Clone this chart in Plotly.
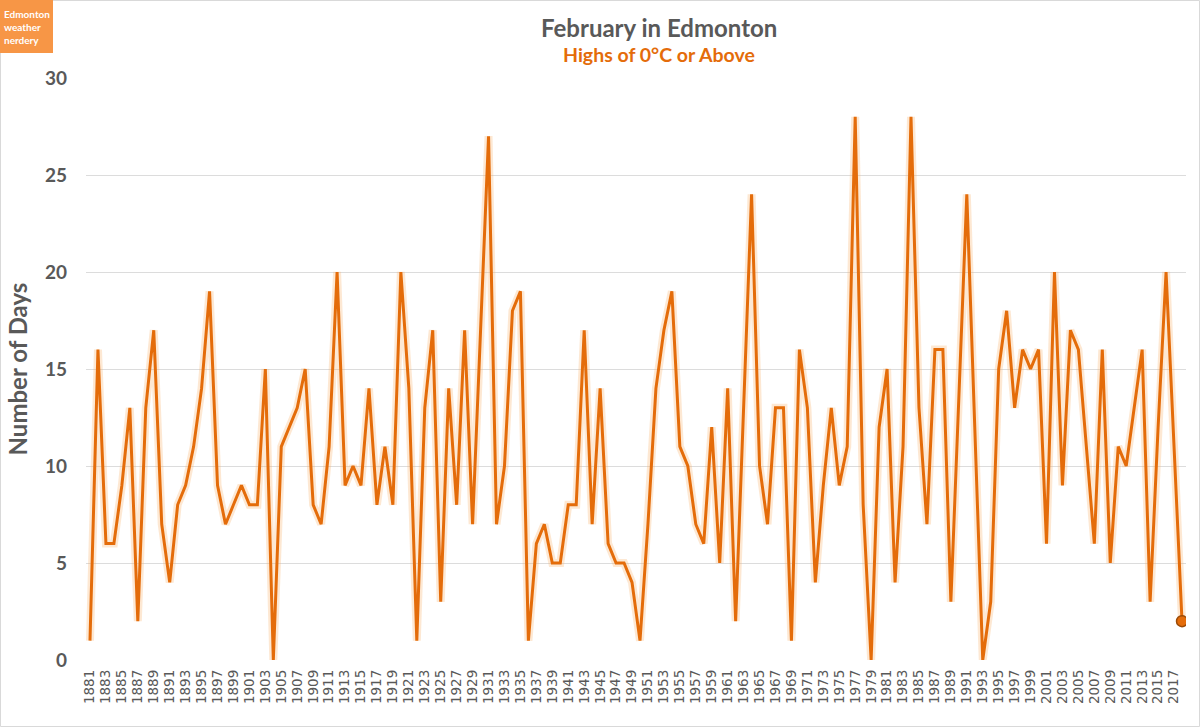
import plotly.graph_objects as go

years = list(range(1881, 2019))
days = [
    1, 16, 6, 6, 9, 13, 2, 13, 17, 7, 4, 8, 9, 11, 14, 19, 9, 7, 8, 9, 8, 8, 15, 0,
    11, 12, 13, 15, 8, 7, 11, 20, 9, 10, 9, 14, 8, 11, 8, 20, 14, 1, 13, 17, 3, 14, 8, 17,
    7, 17, 27, 7, 10, 18, 19, 1, 6, 7, 5, 5, 8, 8, 17, 7, 14, 6, 5, 5, 4, 1, 7, 14,
    17, 19, 11, 10, 7, 6, 12, 5, 14, 2, 13, 24, 10, 7, 13, 13, 1, 16, 13, 4, 9, 13, 9, 11,
    28, 8, 0, 12, 15, 4, 11, 28, 13, 7, 16, 16, 3, 14, 24, 12, 0, 3, 15, 18, 13, 16, 15, 16,
    6, 20, 9, 17, 16, 11, 6, 16, 5, 11, 10, 13, 16, 3, 12, 20, 11, 2,
]
tick_years = list(range(1881, 2018, 2))
y_ticks = [0, 5, 10, 15, 20, 25, 30]

TITLE = "February in Edmonton"
SUBTITLE = "Highs of 0°C or Above"
Y_TITLE = "Number of Days"

W, H = 1200, 727
ML, MR, MT, MB = 86, 14, 78, 67
PW, PH = W - ML - MR, H - MT - MB

def px(x):
    return (x - ML) / PW

def py(y):
    return (H - MB - y) / PH

ORANGE = "#E46C0A"
GRAY = "#595959"

fig = go.Figure()
fig.add_trace(go.Scatter(
    x=years, y=days, mode="lines",
    line=dict(color="rgba(250,180,110,0.3)", width=8),
    hoverinfo="skip", showlegend=False,
))
fig.add_trace(go.Scatter(
    x=years, y=days, mode="lines",
    line=dict(color=ORANGE, width=3),
    showlegend=False,
))
fig.add_trace(go.Scatter(
    x=[years[-1]], y=[days[-1]], mode="markers",
    marker=dict(color=ORANGE, size=11, line=dict(color="#9C4A06", width=1.5)),
    showlegend=False,
))

fig.update_layout(
    width=W, height=H,
    margin=dict(l=ML, r=MR, t=MT, b=MB),
    paper_bgcolor="white", plot_bgcolor="white",
    font=dict(family="Lato", color=GRAY),
    xaxis=dict(
        range=[years[0] - 0.5, years[-1] + 0.5],
        tickvals=tick_years, ticktext=[str(t) for t in tick_years],
        tickangle=-90, showgrid=False, zeroline=False, showline=False,
        tickfont=dict(family="DejaVu Sans", size=13.5, color=GRAY),
        ticks="", ticklabelstandoff=6,
    ),
    yaxis=dict(
        range=[0, 30], tickvals=y_ticks,
        showgrid=True, gridcolor="#DCDCDC", gridwidth=1,
        zeroline=False, showline=False, ticks="",
        tickfont=dict(family="Lato", size=19, color=GRAY, weight="bold"),
        ticklabelstandoff=18,
        title=dict(text=Y_TITLE, font=dict(family="Lato", size=24, color=GRAY, weight="bold"), standoff=10),
    ),
    shapes=[
        dict(type="rect", xref="paper", yref="paper",
             x0=px(0.5), x1=px(W - 0.5), y0=py(H - 0.5), y1=py(0.5),
             line=dict(color="#D9D9D9", width=1), fillcolor="rgba(0,0,0,0)", layer="below"),
        dict(type="rect", xref="paper", yref="paper",
             x0=px(0), x1=px(53), y0=py(53), y1=py(0),
             line=dict(width=0), fillcolor="#F79646", layer="above"),
    ],
    annotations=[
        dict(text=TITLE, xref="paper", yref="paper", x=px(659), y=py(27),
             xanchor="center", yanchor="middle", showarrow=False,
             font=dict(family="Lato", size=24, color=GRAY, weight="bold")),
        dict(text=SUBTITLE, xref="paper", yref="paper", x=px(659), y=py(55),
             xanchor="center", yanchor="middle", showarrow=False,
             font=dict(family="Lato", size=19.5, color=ORANGE, weight="bold")),
        dict(text="Edmonton<br>weather<br>nerdery", xref="paper", yref="paper",
             x=px(2), y=py(6), xanchor="left", yanchor="top", align="left",
             showarrow=False,
             font=dict(family="Lato", size=10, color="white", weight="bold")),
    ],
)

fig.write_html("out.html", config={"displayModeBar": False},
               post_script="document.body.style.margin='0';document.body.style.overflow='hidden';")
